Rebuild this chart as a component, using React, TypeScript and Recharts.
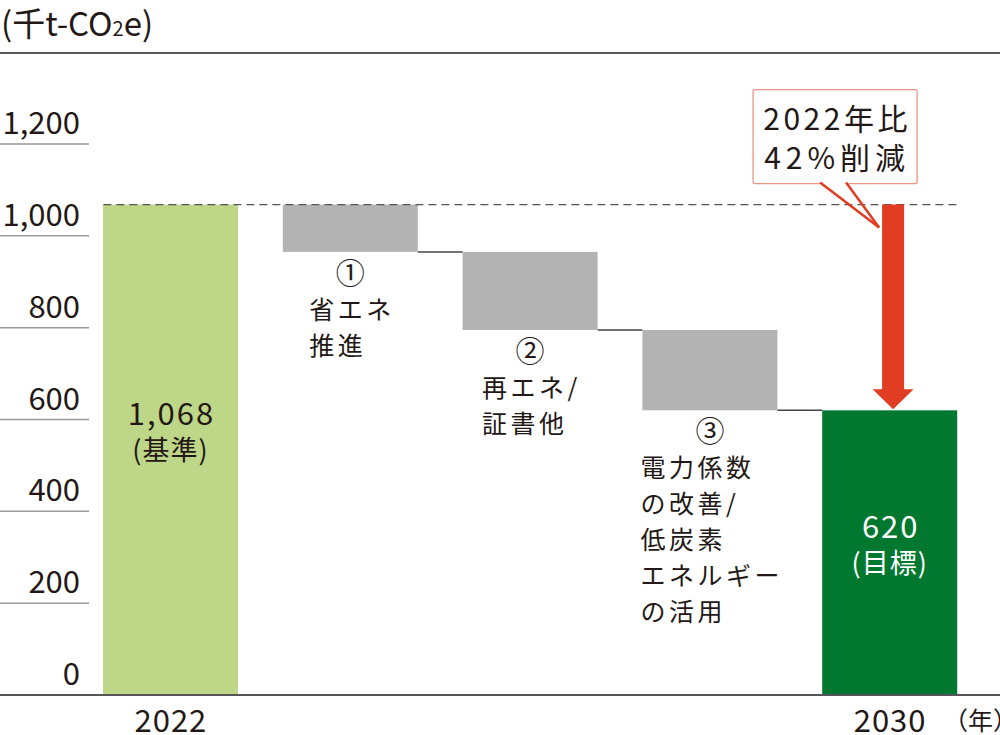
import React from "react";
import { ComposedChart, Bar, XAxis, YAxis, ReferenceLine } from "recharts";

// values in 千t-CO2e
const categories = ["2022", "step1", "step2", "step3", "2030"];
const xTickLabels = ["2022", "", "", "", "2030"];
const baseYearValue = 1068;
const reductions = [103, 170, 175];
const targetValue = 620;
const yTicks = [0, 200, 400, 600, 800, 1000, 1200];
const stepLabels = [
  ["①", "省エネ", "推進"],
  ["②", "再エネ/", "証書他"],
  ["③", "電力係数", "の改善/", "低炭素", "エネルギー", "の活用"],
];
const totalLabels = [
  ["1,068", "(基準)"],
  ["620", "(目標)"],
];
const calloutLines = ["2022年比", "42%削減"];
const barColors = ["#bed687", "#b3b3b3", "#b3b3b3", "#b3b3b3", "#00782f"];

const W = 1000;
const H = 735;
const Y_W = 1;
const PAD_L = 81 - Y_W;
const PAD_R = 20;
const BAR = 135;
const BAND = (W - Y_W - PAD_L - PAD_R) / categories.length;
const FONT = '"Noto Sans CJK JP", "Noto Sans", sans-serif';
const INK = "#231815";
const RED = "#e13d22";

let level = baseYearValue;
const data = categories.map((name, i) => {
  if (i === 0) return { name, range: [0, baseYearValue] };
  if (i === categories.length - 1) return { name, range: [0, targetValue] };
  const top = level;
  level -= reductions[i - 1];
  return { name, range: [level, top] };
});

const textWidth = (s: string, size: number, ls: number) =>
  [...s].reduce((w, c) => w + (c.charCodeAt(0) < 256 ? size * 0.42 : size) + ls, 0) - ls;

const BarShape = (props: any) => {
  const { x, index } = props;
  const y = Math.min(props.y, props.y + props.height);
  const height = Math.abs(props.height);
  const width = props.width;
  const cx = x + width / 2;
  const isStep = index > 0 && index < categories.length - 1;
  const bottom = y + height;
  return (
    <g>
      <rect x={x} y={y} width={width} height={height} fill={barColors[index]} />
      {isStep && (
        <line x1={x + width} x2={x + BAND} y1={bottom} y2={bottom} stroke="#444" strokeWidth={1.5} />
      )}
      {isStep &&
        (() => {
          const lines = stepLabels[index - 1];
          const size = 25;
          const ls = 3.5;
          const maxW = Math.max(...lines.slice(1).map((l) => textWidth(l, size, ls)));
          const left = cx - maxW / 2;
          return (
            <g fontFamily={FONT} fontSize={size} fill={INK}>
              <text x={cx} y={bottom + 32} textAnchor="middle" fontSize={29}>
                {lines[0]}
              </text>
              {lines.slice(1).map((l, k) => (
                <text key={k} x={left} y={bottom + 31 + 36 * (k + 1)} letterSpacing={ls}>
                  {l}
                </text>
              ))}
            </g>
          );
        })()}
      {!isStep &&
        (() => {
          const lines = totalLabels[index === 0 ? 0 : 1];
          const color = index === 0 ? INK : "#ffffff";
          const base = y + height * 0.45;
          return (
            <g fontFamily={FONT} fill={color} textAnchor="middle">
              <text x={cx + 1} y={base} fontSize={31} letterSpacing={2}>
                {lines[0]}
              </text>
              <text x={cx} y={base + 35} fontSize={27} letterSpacing={1}>
                {lines[1]}
              </text>
            </g>
          );
        })()}
    </g>
  );
};

const DashedShape = (props: any) => {
  const { x1, x2, y1 } = props;
  return (
    <line
      x1={x1 - BAR / 2}
      x2={x2 + BAR / 2}
      y1={y1}
      y2={y1}
      stroke="#555"
      strokeWidth={1.3}
      strokeDasharray="8 5"
    />
  );
};

const ArrowShape = (props: any) => {
  const { x1, y1, y2 } = props;
  const cx = x1 + 3;
  const top = y1;
  const tip = y2 - 1;
  const sw = 11;
  const hw = 20.5;
  const hh = 20;
  const boxL = cx - 140;
  const boxR = cx + 24;
  const boxT = top - 115;
  const boxB = top - 21;
  const mid = (boxL + boxR) / 2;
  return (
    <g>
      <path
        d={`M${cx - sw},${top} L${cx + sw},${top} L${cx + sw},${tip - hh} L${cx + hw},${tip - hh} L${cx},${tip} L${cx - hw},${tip - hh} L${cx - sw},${tip - hh} Z`}
        fill={RED}
      />
      <rect x={boxL} y={boxT} width={boxR - boxL} height={boxB - boxT} rx={2} fill="#fff" stroke="#ec9585" strokeWidth={1.3} />
      <line x1={cx - 73} x2={cx - 47} y1={boxB} y2={boxB} stroke="#fff" strokeWidth={3} />
      <line x1={cx - 73} y1={boxB - 1} x2={cx - 14} y2={top + 23} stroke={RED} strokeWidth={2.5} />
      <line x1={cx - 47} y1={boxB - 1} x2={cx - 14} y2={top + 23} stroke={RED} strokeWidth={2.5} />
      <g fontFamily={FONT} fontSize={30} fill={INK} textAnchor="middle">
        <text x={mid + 2} y={boxT + 40} letterSpacing={3.5}>
          {calloutLines[0]}
        </text>
        <text x={mid + 2} y={boxT + 79} letterSpacing={5}>
          {calloutLines[1]}
        </text>
      </g>
    </g>
  );
};

const YTick = (props: any) => {
  const { y, payload } = props;
  return (
    <g>
      <text x={80} y={y - 10} textAnchor="end" fontFamily={FONT} fontSize={31} fill={INK}>
        {payload.value === 0 ? "0" : Number(payload.value).toLocaleString("en-US")}
      </text>
      {payload.value === 0 ? (
        <line x1={0} x2={W} y1={y} y2={y} stroke="#555" strokeWidth={2} />
      ) : (
        <line x1={0} x2={89} y1={y} y2={y} stroke="#9a9a9a" strokeWidth={1.5} />
      )}
    </g>
  );
};

const XTick = (props: any) => {
  const { x, payload, index } = props;
  const i = payload.index ?? index;
  return (
    <text x={x} y={732} textAnchor="middle" fontFamily={FONT} fontSize={31} fill={INK} letterSpacing={1}>
      {xTickLabels[i]}
    </text>
  );
};

const YearLabel = () => (
  <text x={943} y={730} fontFamily={FONT} fontSize={25} fill={INK}>
    （年）
  </text>
);

export default function App() {
  return (
    <div style={{ position: "absolute", left: 0, top: 0, width: W, height: H, background: "#fff" }}>
      <svg style={{ position: "absolute", left: 0, top: 0 }} width={W} height={60}>
        <text x={1} y={36} fontFamily={FONT} fontSize={33} fill={INK}>
          (千t-CO<tspan fontSize={20}>2</tspan>e)
        </text>
        <line x1={0} x2={W} y1={53} y2={53} stroke="#222" strokeWidth={1.5} />
      </svg>
      <div style={{ position: "absolute", left: 0, top: 0 }}>
        <ComposedChart width={W} height={H} data={data} margin={{ top: 144, right: 0, bottom: 0, left: 0 }}>
          <XAxis
            dataKey="name"
            padding={{ left: PAD_L, right: PAD_R }}
            axisLine={false}
            tickLine={false}
            interval={0}
            height={40}
            tick={<XTick />}
            label={<YearLabel />}
          />
          <YAxis
            width={Y_W}
            domain={[0, 1200]}
            ticks={yTicks}
            axisLine={false}
            tickLine={false}
            tick={<YTick />}
            interval={0}
          />
          <Bar dataKey="range" barSize={BAR} shape={<BarShape />} isAnimationActive={false} />
          <ReferenceLine
            segment={[
              { x: categories[0], y: baseYearValue },
              { x: categories[categories.length - 1], y: baseYearValue },
            ]}
            ifOverflow="visible"
            shape={<DashedShape />}
          />
          <ReferenceLine
            segment={[
              { x: categories[categories.length - 1], y: baseYearValue },
              { x: categories[categories.length - 1], y: targetValue },
            ]}
            ifOverflow="visible"
            shape={<ArrowShape />}
          />
        </ComposedChart>
      </div>
    </div>
  );
}
